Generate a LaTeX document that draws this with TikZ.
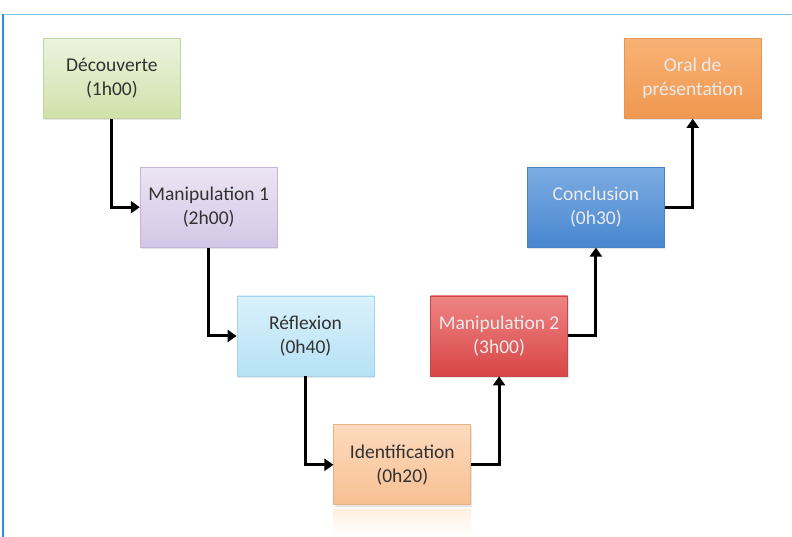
\documentclass[tikz,border=0pt]{standalone}
\usepackage{fontspec}
\setmainfont{Carlito}
\usepackage{tikz}
\usetikzlibrary{arrows.meta, positioning, shadows}
\definecolor{frameTop}{RGB}{128,196,224}
\definecolor{frameLeft}{RGB}{50,140,220}
\definecolor{txtDark}{RGB}{50,50,50}
\definecolor{edgeGreen}{RGB}{196,212,160}
\definecolor{edgeViolet}{RGB}{196,182,216}
\definecolor{edgeCyan}{RGB}{168,212,234}
\definecolor{edgePeach}{RGB}{232,178,136}
\definecolor{edgeRed}{RGB}{200,72,72}
\definecolor{edgeBlue}{RGB}{74,128,196}
\definecolor{edgeOrange}{RGB}{228,150,88}
\tikzset{
  phase/.style={rectangle, draw=#1, line width=0.8pt,
                minimum width=137pt, minimum height=80pt, inner sep=2pt,
                align=center, font=\fontsize{19.5}{24}\selectfont,
                drop shadow={shadow xshift=1pt, shadow yshift=-2pt, opacity=0.2}},
  lightph/.style={phase=#1, text=txtDark},
  darkph/.style={phase=#1, text=white!92!black},
  flow/.style={-{Triangle[length=9pt, width=12pt]}, line width=3pt},
}
\begin{document}
\begin{tikzpicture}[x=1pt, y=1pt]
  \useasboundingbox (0,0) rectangle (792,537);
  % cadre
  \draw[frameTop, line width=1.5pt] (3,522.5) -- (792,522.5);
  \draw[frameLeft, line width=1.2pt] (3,522.5) -- (3,0);
  % etapes
  \node[lightph=edgeGreen, top color={rgb,255:red,236;green,243;blue,222},
        bottom color={rgb,255:red,208;green,225;blue,170},
        anchor=north west] (decouv) at (43,499)
    {Découverte\\(1h00)};
  \node[lightph=edgeViolet, top color={rgb,255:red,236;green,229;blue,243},
        bottom color={rgb,255:red,212;green,198;blue,230},
        below right=48pt and -41pt of decouv] (manipA)
    {Manipulation 1\\(2h00)};
  \node[lightph=edgeCyan, top color={rgb,255:red,218;green,241;blue,251},
        bottom color={rgb,255:red,182;green,225;blue,245},
        below right=48pt and -41pt of manipA] (reflex)
    {Réflexion\\(0h40)};
  \node[lightph=edgePeach, top color={rgb,255:red,253;green,218;blue,190},
        bottom color={rgb,255:red,248;green,192;blue,146},
        below right=48pt and -41pt of reflex] (ident)
    {Identification\\(0h20)};
  \node[darkph=edgeRed, top color={rgb,255:red,238;green,132;blue,132},
        bottom color={rgb,255:red,216;green,70;blue,70},
        above right=48pt and -41pt of ident] (manipB)
    {Manipulation 2\\(3h00)};
  \node[darkph=edgeBlue, top color={rgb,255:red,124;green,172;blue,226},
        bottom color={rgb,255:red,72;green,134;blue,208},
        above right=48pt and -41pt of manipB] (concl)
    {Conclusion\\(0h30)};
  \node[darkph=edgeOrange, top color={rgb,255:red,248;green,178;blue,116},
        bottom color={rgb,255:red,240;green,152;blue,80},
        above right=48pt and -41pt of concl] (oral)
    {Oral de\\présentation};
  % reflet
  \shade[top color=orange!12, bottom color=white, draw=none]
    ([yshift=-4pt]ident.south west) rectangle ([yshift=-30pt]ident.south east);
  % fleches
  \draw[flow] (decouv.south) |- (manipA.west);
  \draw[flow] (manipA.south) |- (reflex.west);
  \draw[flow] (reflex.south) |- (ident.west);
  \draw[flow] (ident.east) -| (manipB.south);
  \draw[flow] (manipB.east) -| (concl.south);
  \draw[flow] (concl.east) -| (oral.south);
\end{tikzpicture}
\end{document}
